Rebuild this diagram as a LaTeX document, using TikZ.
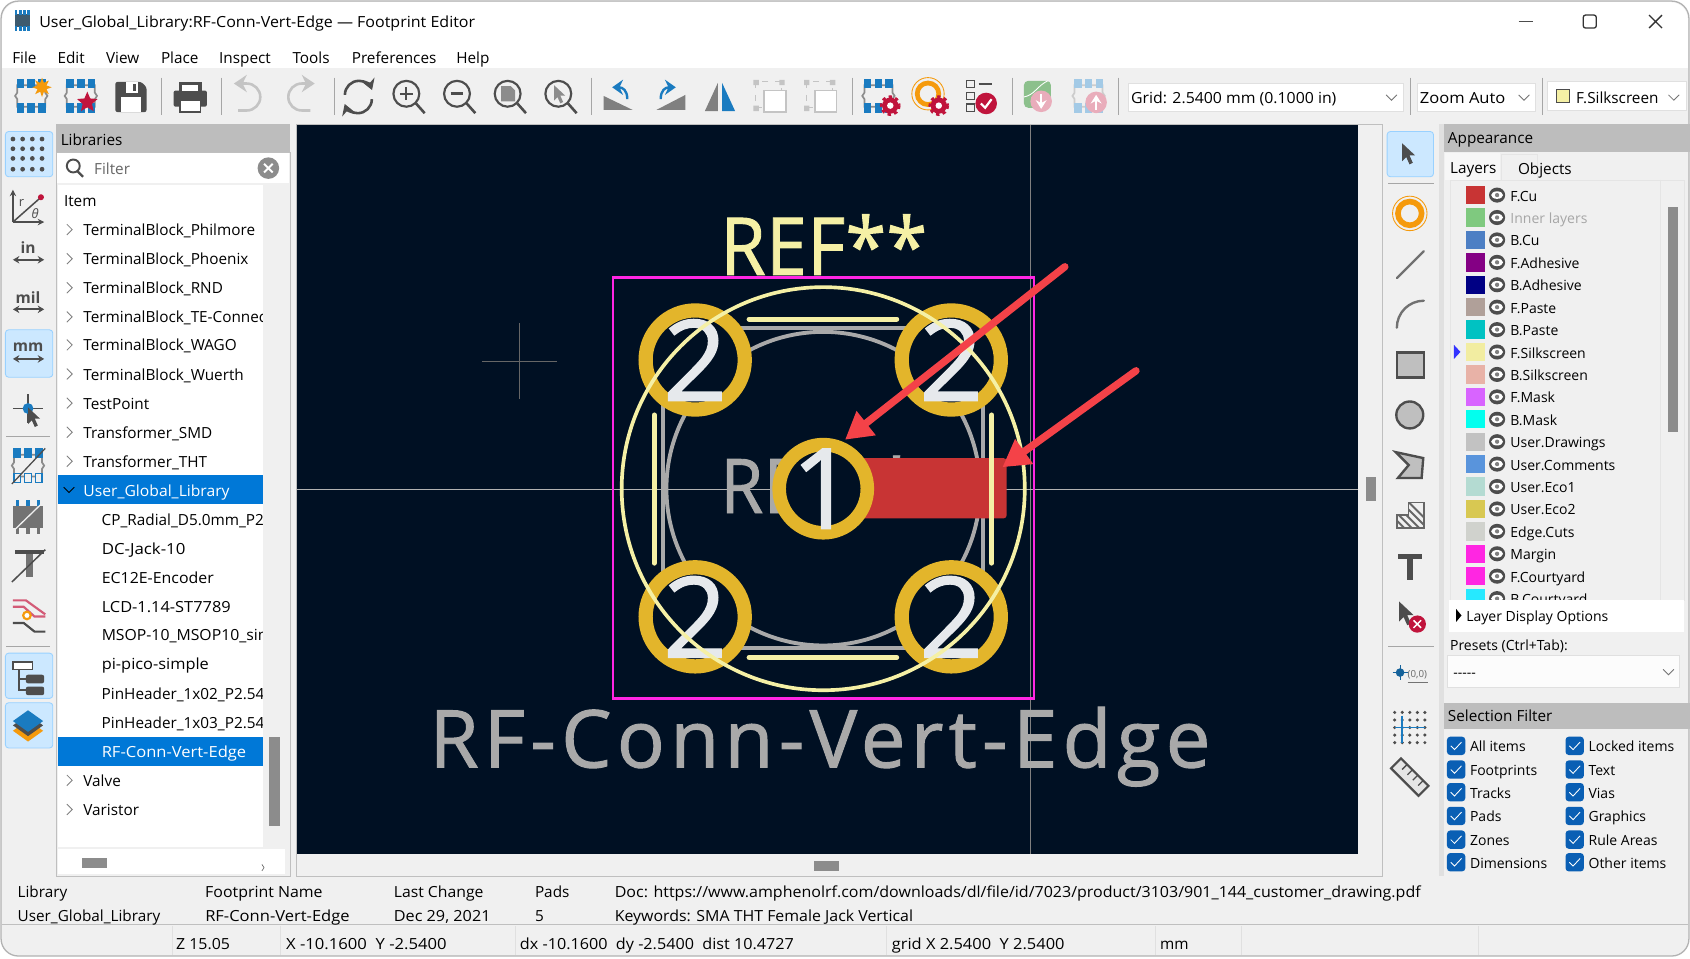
\documentclass[tikz,border=0pt]{standalone}
\usepackage{fontspec}
\setmainfont{Open Sans}
\usetikzlibrary{positioning, arrows.meta, shapes.geometric}

\newcommand{\uifont}{\fontsize{7.1}{8.5}\selectfont}
\newcommand{\smallfont}{\fontsize{6.5}{8}\selectfont}
\newfontfamily\kicadfont[LetterSpace=6.6, FakeBold=1.2]{Open Sans}
\newfontfamily\kicadrefont[LetterSpace=.6, FakeBold=1.2]{Open Sans}
\newfontfamily\padfont[FakeBold=1.2]{Open Sans}

\definecolor{panelbg}{HTML}{F0F0F0}
\definecolor{headbg}{HTML}{BDBDBD}
\definecolor{canvasbg}{HTML}{001023}
\definecolor{selblue}{HTML}{0078D7}
\definecolor{hilite}{HTML}{CCE8FF}
\definecolor{hiborder}{HTML}{99D1FF}
\definecolor{padgold}{HTML}{E3B52B}
\definecolor{padtext}{HTML}{E6E9EC}
\definecolor{silk}{HTML}{F5F0A5}
\definecolor{fabgray}{HTML}{A9A9A9}
\definecolor{courtyard}{HTML}{FF26E2}
\definecolor{copper}{HTML}{C83434}
\definecolor{arrowred}{HTML}{F44248}
\definecolor{icongray}{HTML}{4D4D4D}
\definecolor{iconblue}{HTML}{1A7BC0}
\definecolor{iconred}{HTML}{C0143C}
\definecolor{iconorange}{HTML}{F59A0C}
\definecolor{fadegray}{HTML}{C4C4C4}
\definecolor{checkblue}{HTML}{0A5FB4}

\tikzset{
	txt/.style={anchor=base west, inner sep=0pt, font=\uifont, text=black, yshift=-2.8pt},
	sm/.style={txt, font=\smallfont},
	sx/.style={xscale=#1, transform shape},
	sepline/.style={draw=black!35, line width=.4pt},
	hibox/.style={fill=hilite, draw=hiborder, line width=.4pt, rounded corners=1.5pt},
	ico/.style={draw=icongray, line width=1pt},
	combo/.style={fill=white, draw=black!12, line width=.4pt},
}

% footprint outline with pads: x, y, pad colour, line colour
\newcommand{\fpicon}[4]{
	\begin{scope}[shift={(#1,#2)}]
		\draw[draw=#4, line width=.8pt] (-13,-10) -- (-13,-3) -- (-15,0) -- (-13,3) -- (-13,10) -- (13,10) -- (13,3) -- (15,0) -- (13,-3) -- (13,-10) -- cycle;
		\foreach \px in {-10,0,10} {
			\fill[#3] (\px-3.5,-16) rectangle (\px+3.5,-7);
			\fill[#3] (\px-3.5,7) rectangle (\px+3.5,16);
		}
	\end{scope}
}
% red gear: x, y, colour
\newcommand{\gearicon}[3]{
	\fill[#3] (#1,#2) circle[radius=7.5];
	\draw[#3, line width=1.6pt, dash pattern=on 1.5pt off 1.5pt] (#1,#2) circle[radius=8];
	\fill[white] (#1,#2) circle[radius=3];
}
\newcommand{\zoomicon}[2]{
	\draw[ico] (#1-2,#2-3) circle[radius=12];
	\draw[ico, line width=1.2pt] (#1+7,#2+6) -- (#1+15,#2+15);
}
\newcommand{\cursoricon}[4][1]{
	\begin{scope}[shift={(#2,#3)}, scale=#1]
		\fill[#4] (0,0) -- (0,22) -- (5,17) -- (9,26) -- (13,24) -- (9,15) -- (16,15) -- cycle;
	\end{scope}
}
\newcommand{\undoicon}[3]{
	\begin{scope}[shift={(#1,#2)}, xscale=#3]
		\draw[fadegray, line width=1.2pt, -{Stealth[length=6pt,width=8pt]}] (-10,12.5) -- (-2,12.5) arc[start angle=90, end angle=-90, radius=12.5] -- (-14,-12.5);
	\end{scope}
}
\newcommand{\groupicon}[2]{
	\draw[fadegray, line width=.5pt, dashed] (#1-14,#2-14) rectangle (#1+10,#2+10);
	\fill[fadegray] (#1-16,#2-16) rectangle ++(5,5) (#1+8,#2-16) rectangle ++(5,5) (#1-16,#2+8) rectangle ++(5,5);
	\draw[fadegray, fill=white, line width=.8pt] (#1-6,#2-6) rectangle (#1+14,#2+14);
}

\begin{document}
\begin{tikzpicture}[x=.5pt, y=-.5pt]
	\useasboundingbox (0,0) rectangle (1568,889);

	% Window
	\fill[white] (0,0) rectangle (1568,889);
	\draw[draw=black!30, fill=panelbg, line width=.6pt, rounded corners=8pt] (1,1) rectangle (1567,887);
	\fill[white] (2,63) [rounded corners=8pt] -- (2,2) -- (1566,2) [sharp corners] -- (1566,63) -- cycle;

	% Title bar
	\fill[icongray!70!iconblue] (14,13) rectangle (28,25);
	\foreach \px in {15,19,23,27} {
		\fill[iconblue] (\px-1.5,9) rectangle (\px+1,14);
		\fill[iconblue] (\px-1.5,24) rectangle (\px+1,29);
	}
	\node[txt, sx=1.047] (title) at (36,20) {User\_Global\_Library:RF-Conn-Vert-Edge — Footprint Editor};
	\draw[black!70, line width=.5pt] (1409,20) -- (1422,20);
	\draw[black!80, line width=.6pt, rounded corners=1pt] (1469,14) rectangle (1481,26);
	\draw[black!80, line width=.6pt] (1530,14) -- (1542,26) (1542,14) -- (1530,26);

	% Menu bar
	\foreach \name/\px in {File/11, Edit/53, View/98, Place/149, Inspect/203, Tools/271, Preferences/326, Help/423} {
		\node[txt] (menu\name) at (\px,53) {\name};
	}

	% Top toolbar separators
	\foreach \px in {150,205,310,549,791,939,1038,1309,1431} {
		\draw[sepline] (\px,72) -- (\px,107);
	}

	% New and open footprint, save, print
	\fpicon{29}{89}{iconblue}{black!45}
	\node[star, star points=8, star point ratio=2, fill=iconorange, minimum size=9pt, inner sep=0pt] (newstar) at (39,81) {};
	\fpicon{75}{89}{iconblue}{black!45}
	\node[star, star points=5, star point ratio=2.2, fill=iconred, minimum size=10pt, inner sep=0pt] (openstar) at (81,95) {};
	\fill[icongray, rounded corners=1pt] (107,76) -- (131,76) -- (136,81) -- (136,104) -- (107,104) -- cycle;
	\fill[white] (112,90) rectangle (131,104);
	\fill[white] (117,76) rectangle (128,86);
	\fill[icongray] (123,78) rectangle (126,84);
	\fill[icongray, rounded corners=1pt] (161,84) rectangle (192,99);
	\fill[icongray] (166,76) rectangle (187,84);
	\fill[white] (169,79) rectangle (184,84);
	\draw[icongray, fill=white, line width=.9pt] (167,93) rectangle (186,104);

	% Undo, redo
	\undoicon{231}{90}{1}
	\undoicon{278}{90}{-1}

	% Refresh and zoom
	\draw[ico, line width=1.2pt, -{Stealth[length=5pt,width=6pt]}] (320,88) arc[start angle=180, end angle=340, radius=13];
	\draw[ico, line width=1.2pt, -{Stealth[length=5pt,width=6pt]}] (345,92) arc[start angle=0, end angle=160, radius=13];
	\zoomicon{379}{90}
	\draw[ico] (371,87) -- (383,87) (377,81) -- (377,93);
	\zoomicon{426}{90}
	\draw[ico, line width=1.2pt] (418,87) -- (430,87);
	\zoomicon{473}{90}
	\fill[black!45] (465,80) -- (474,80) -- (478,84) -- (478,94) -- (465,94) -- cycle;
	\zoomicon{520}{90}
	\cursoricon[.65]{514}{79}{black!45}

	% Rotate and mirror
	\fill[black!50] (560,89) -- (587,102) -- (560,102) -- cycle;
	\draw[iconblue, line width=1.1pt, -{Stealth[length=5pt,width=7pt]}] (582,92) .. controls (582,84) and (578,81) .. (568,81);
	\fill[black!50] (636,88) -- (609,102) -- (636,102) -- cycle;
	\draw[iconblue, line width=1.1pt, -{Stealth[length=5pt,width=7pt]}] (613,92) .. controls (613,84) and (617,81) .. (627,81);
	\fill[black!50] (666,77) -- (666,103) -- (654,103) -- cycle;
	\fill[iconblue] (670,77) -- (670,103) -- (682,103) -- cycle;
	\groupicon{715}{90}
	\groupicon{762}{90}

	% Settings and checks
	\fpicon{815}{89}{iconblue}{black!45}
	\gearicon{826}{98}{iconred}
	\draw[iconorange, line width=2.2pt] (861,87) circle[radius=10];
	\draw[iconorange, line width=.4pt] (861,87) circle[radius=15];
	\gearicon{871}{98}{iconred}
	\foreach \py in {78,89,100} {
		\draw[icongray, line width=.6pt] (897,\py-3.5) rectangle (904,\py+3.5);
	}
	\draw[icongray, line width=.8pt] (908,78) -- (920,78) (908,89) -- (912,89);
	\fill[iconred] (915,96) circle[radius=10];
	\draw[white, line width=1pt] (910,96) -- (914,100) -- (920,92);

	% Faded import and export
	\fill[green!45!black!45!white, rounded corners=2pt] (950,75) rectangle (975,100);
	\draw[white, line width=.4pt] (950,90) .. controls (960,88) and (962,80) .. (972,75);
	\fill[iconred!35!white] (966,94) circle[radius=10];
	\draw[white, line width=1pt, -{Stealth[length=4pt,width=5pt]}] (966,87) -- (966,101);
	\fpicon{1010}{89}{iconblue!40!white}{black!20}
	\fill[iconred!35!white] (1017,95) circle[radius=10];
	\draw[white, line width=1pt, -{Stealth[length=4pt,width=5pt]}] (1017,102) -- (1017,88);

	% Combo boxes
	\draw[combo] (1047,77) rectangle (1302,103);
	\node[txt, sx=1.035] (gridbox) at (1049,90) {Grid: 2.5400 mm (0.1000 in)};
	\draw[combo] (1315,77) rectangle (1425,103);
	\node[txt, sx=1.08] (zoombox) at (1317,90) {Zoom Auto};
	\draw[combo] (1436,76) rectangle (1565,102);
	\draw[black!70, fill=silk, line width=.4pt] (1444,83) rectangle (1456,95);
	\node[txt] (layerbox) at (1462,90) {F.Silkscreen};
	\foreach \px in {1291,1414,1553} {
		\draw[black!55, line width=.4pt] (\px-5,88) -- (\px,93) -- (\px+5,88);
	}

	% Left toolbar
	\draw[hibox] (5,122) rectangle (49,164);
	\draw[hibox] (5,306) rectangle (49,350);
	\draw[hibox] (5,606) rectangle (49,648);
	\draw[hibox] (5,652) rectangle (49,694);
	\foreach \px in {12,21,30,39} {
		\foreach \py in {129,138,147,157} {
			\fill[icongray] (\px,\py) circle[radius=2.2];
		}
	}
	% Polar icon
	\draw[icongray, line width=.7pt, -{Stealth[length=3pt,width=3pt]}] (12,206) -- (12,176);
	\draw[icongray, line width=.7pt, -{Stealth[length=3pt,width=3pt]}] (12,206) -- (41,206);
	\draw[icongray, line width=.7pt] (12,206) -- (38,183);
	\fill[iconred] (38,183) circle[radius=2.8];
	\node[txt, font=\fontsize{6}{6}\selectfont, text=icongray] (polarr) at (17,186) {r};
	\node[txt, font=\fontsize{6}{6}\itshape\selectfont, text=icongray] (polart) at (29,197) {θ};
	% Unit icons
	\foreach \unit/\py in {in/236, mil/282, mm/328} {
		\node[font=\fontsize{7.2}{8}\bfseries\selectfont, text=icongray, inner sep=0pt] (unit\unit) at (26,\py-6) {\unit};
		\draw[icongray, line width=.8pt, {Stealth[length=3pt,width=3.5pt]}-{Stealth[length=3pt,width=3.5pt]}] (12,\py+5) -- (41,\py+5);
	}
	% Cursor in crosshair
	\draw[icongray, line width=.5pt] (26,366) -- (26,392) (12,379) -- (40,379);
	\fill[iconblue] (26,379) circle[radius=5];
	\cursoricon[.7]{26}{378}{icongray}
	\draw[sepline] (6,405) -- (46,405);
	% Hidden item icons
	\fpicon{26}{432}{iconblue}{black!45}
	\foreach \px in {16,26,36} {
		\draw[iconblue, fill=panelbg, line width=.5pt] (\px-3,439) rectangle (\px+3,448);
	}
	\draw[icongray, line width=.6pt] (11,449) -- (42,416);
	\fill[black!55] (12,469) rectangle (40,490);
	\foreach \px in {16,26,36} {
		\fill[iconblue] (\px-1.5,464) rectangle (\px+1.5,469);
		\fill[black!55] (\px-1.5,490) rectangle (\px+1.5,495);
	}
	\draw[panelbg, line width=.6pt] (11,494) -- (42,464);
	\fill[icongray] (14,510) rectangle (41,514);
	\fill[black!55] (24,514) rectangle (31,535);
	\draw[icongray, line width=.7pt] (11,540) -- (42,510);
	\draw[iconred!70!white, line width=1pt] (12,563) -- (22,563) -- (32,572) -- (42,572);
	\draw[icongray, line width=1pt] (12,578) -- (22,578) -- (32,586) -- (42,586);
	\draw[iconred!70!white, line width=1pt] (12,557) -- (24,557) -- (42,570);
	\draw[iconorange, fill=white, line width=1pt] (25,571) circle[radius=3.5];
	\draw[sepline] (6,600) -- (46,600);
	% Hierarchy
	\draw[icongray, line width=.9pt] (18,622) -- (18,640) -- (26,640) (18,630) -- (26,630);
	\draw[icongray, fill=white, line width=.7pt] (12,614) rectangle (30,621);
	\fill[icongray, rounded corners=1pt] (24,626) rectangle (41,634);
	\fill[icongray, rounded corners=1pt] (24,637) rectangle (41,645);
	% Layers
	\fill[iconorange] (26,668) -- (40,678) -- (26,688) -- (12,678) -- cycle;
	\fill[icongray] (26,663) -- (40,673) -- (26,683) -- (12,673) -- cycle;
	\fill[iconblue] (26,659) -- (40,669) -- (26,679) -- (12,669) -- cycle;

	% Libraries panel
	\fill[headbg] (52,115) rectangle (269,141);
	\node[txt] (libhead) at (56,129) {Libraries};
	\draw[black!25, line width=.4pt] (52,141) rectangle (269,813);
	\fill[white] (53,142) rectangle (268,170);
	\draw[icongray, line width=.9pt] (68,154) circle[radius=6];
	\draw[icongray, line width=1.1pt] (72,159) -- (77,164);
	\node[txt, text=black!60] (filter) at (87,156) {Filter};
	\fill[black!45] (249,156) circle[radius=10];
	\draw[white, line width=.9pt] (245,152) -- (253,160) (253,152) -- (245,160);
	\fill[white] (54,172) rectangle (244,786);
	\fill[white] (54,788) rectangle (264,811);
	\fill[selblue] (54,441) rectangle (244,468);
	\fill[selblue] (54,684) rectangle (244,711);
	\begin{scope}
		\clip (54,172) rectangle (244,786); % Clip long names to the list
		\node[txt] (libitem) at (59,186) {Item};
		\foreach \name/\py in {TerminalBlock\_Philmore/213, TerminalBlock\_Phoenix/240, TerminalBlock\_RND/267, TerminalBlock\_TE-Connectivity/294, TerminalBlock\_WAGO/320, TerminalBlock\_Wuerth/347, TestPoint/374, Transformer\_SMD/401, Transformer\_THT/428, Valve/724, Varistor/751} {
			\node[txt] (lib\py) at (77,\py) {\name};
			\draw[black!50, line width=.4pt] (62,\py-5) -- (67,\py) -- (62,\py+5);
		}
		\node[txt, text=white, sx=1.025] (libuser) at (77,455) {User\_Global\_Library};
		\draw[black, line width=.4pt] (59,452) -- (64,457) -- (69,452);
		\foreach \name/\py/\stretch in {CP\_Radial\_D5.0mm\_P2.00mm/482/1, DC-Jack-10/509/1.1, EC12E-Encoder/536/1.04, LCD-1.14-ST7789/563/1.07, MSOP-10\_MSOP10\_simple/589/1.03, pi-pico-simple/616/1.07, PinHeader\_1x02\_P2.54mm/643/1, PinHeader\_1x03\_P2.54mm/670/1} {
			\node[txt, sx=\stretch] (fp\py) at (94,\py) {\name};
		}
		\node[txt, text=white, sx=1.08] (fpsel) at (94,697) {RF-Conn-Vert-Edge};
	\end{scope}
	\fill[black!45] (250,684) rectangle (260,766);
	\fill[black!45] (76,796) rectangle (99,805);
	\draw[black!60, line width=.3pt] (243,802) -- (245,805) -- (243,808);

	% Canvas
	\draw[black!25, line width=.4pt] (275,115) rectangle (1283,813);
	\fill[canvasbg] (276,116) rectangle (1260,792);
	\fill[black!45] (1267,443) rectangle (1277,465);
	\fill[black!45] (755,799) rectangle (778,808);
	\draw[black!50, line width=.35pt] (956,116) -- (956,792);
	\draw[black!30, line width=.35pt] (276,454) -- (1260,454);
	\draw[black!60, line width=.35pt] (447,335) -- (517,335) (482,300) -- (482,370);

	% Fabrication layer
	\draw[fabgray, line width=1.8pt] (615,304.5) rectangle (912,601);
	\draw[fabgray, line width=1.8pt] (763.8,453.4) circle[radius=145.5];
	\begin{scope}
		\clip (660,423) rectangle (880,480);
		\node[anchor=base west, inner sep=0pt, font=\fontsize{35}{35}\kicadrefont\selectfont, text=fabgray, sx=.92] (fabref) at (668,476) {REF**};
	\end{scope}

	% Copper pad
	\fill[copper, rounded corners=1.5pt] (763.8,425) rectangle (934,481);

	% Pads
	\foreach \px/\py/\padname in {645/334/a, 882.6/334/b, 645/572.3/c, 882.6/572.3/d} {
		\draw[padgold, fill=canvasbg, line width=6.6pt] (\px,\py) circle[radius=46];
		\node[font=\fontsize{52}{52}\padfont\selectfont, text=padtext, inner sep=0pt] (pad\padname) at (\px,\py) {2};
	}
	\draw[padgold, fill=canvasbg, line width=6.3pt] (763.8,453.4) circle[radius=40.9];
	\node[font=\fontsize{52}{52}\padfont\selectfont, text=padtext, inner sep=0pt] (padone) at (763.8,453.4) {1};

	% Silkscreen
	\draw[silk, line width=1.7pt] (763.8,453.4) circle[radius=187];
	\draw[silk, line width=2.3pt, line cap=round] (695,296) -- (832,296);
	\draw[silk, line width=2.3pt, line cap=round] (695,610) -- (832,610);
	\draw[silk, line width=2.3pt, line cap=round] (607,385) -- (607,522.5);
	\draw[silk, line width=2.3pt, line cap=round] (920,385) -- (920,522.5);
	\node[anchor=base west, inner sep=0pt, font=\fontsize{37}{37}\kicadrefont\selectfont, text=silk, sx=.92] (silkref) at (668,255) {REF**};

	% Courtyard
	\draw[courtyard, line width=1pt] (569,257.5) rectangle (959.5,648);

	% Footprint name
	\node[anchor=base west, inner sep=0pt, font=\fontsize{37}{37}\kicadfont\selectfont, text=fabgray] (fpname) at (398,712) {RF-Conn-Vert-Edge};

	% Red arrows
	\coordinate (arrowastart) at (988,247.5);
	\coordinate (arrowaend) at (784,408);
	\coordinate (arrowbstart) at (1054,344);
	\coordinate (arrowbend) at (930,433.5);
	\draw[arrowred, line width=3.4pt, line cap=round, -{Triangle[length=12.5pt,width=13.5pt]}] (arrowastart) -- (arrowaend);
	\draw[arrowred, line width=3.4pt, line cap=round, -{Triangle[length=12.5pt,width=13.5pt]}] (arrowbstart) -- (arrowbend);

	% Right toolbar
	\draw[hibox] (1287,122) rectangle (1330,164);
	\cursoricon[.75]{1301}{133}{icongray}
	\draw[sepline] (1288,170) -- (1330,170);
	\draw[iconorange, line width=2.6pt] (1308,198) circle[radius=11];
	\draw[iconorange, line width=.4pt] (1308,198) circle[radius=16];
	\draw[icongray!80, line width=1.1pt, line cap=round] (1296,258) -- (1321,233);
	\draw[icongray!80, line width=1.1pt, line cap=round] (1296,304) arc[start angle=180, end angle=270, radius=25];
	\draw[icongray, fill=black!25, line width=1.2pt] (1296,327) rectangle (1321,350);
	\draw[icongray, fill=black!25, line width=1.1pt] (1308,385) circle[radius=12.5];
	\draw[icongray, fill=black!25, line width=1.1pt] (1295,419.5) -- (1320.5,425) -- (1319,443.5) -- (1297,443.5) -- (1307,431.5) -- cycle;
	\begin{scope}
		\clip (1296,490) -- (1296,478) -- (1307,478) -- (1307,466) -- (1321,466) -- (1321,490) -- cycle;
		\foreach \hx in {1296,1303,1310,1317,1324,1331} {
			\draw[black!60, line width=.9pt] (\hx-24,466) -- (\hx,490);
		}
	\end{scope}
	\draw[black!60, line width=.7pt] (1296,490) -- (1296,478) -- (1307,478) -- (1307,466) -- (1321,466) -- (1321,490) -- cycle;
	\fill[icongray] (1297,514) rectangle (1319,519);
	\fill[icongray] (1305,514) rectangle (1311,538);
	\cursoricon[.85]{1298}{558}{icongray}
	\fill[iconred] (1315,579) circle[radius=8];
	\draw[white, line width=.7pt] (1311.5,575.5) -- (1318.5,582.5) (1318.5,575.5) -- (1311.5,582.5);
	\draw[sepline] (1288,600) -- (1330,600);
	\fill[iconblue!80!black] (1299,624) circle[radius=4];
	\draw[iconblue!80!black, line width=.5pt] (1292,624) -- (1306,624) (1299,617) -- (1299,631);
	\draw[black!55, line width=.4pt] (1306,633) -- (1325,633);
	\node[font=\fontsize{4.5}{5}\selectfont, text=black!60, inner sep=0pt] (origin) at (1315,626) {(0,0)};
	\foreach \px in {1294,1301,1308,1315,1322} {
		\foreach \py in {661,668,675,682,689} {
			\fill[icongray] (\px,\py) circle[radius=1.6];
		}
	}
	\draw[iconblue, line width=.7pt] (1294,675) -- (1322,675) (1301,664) -- (1301,689);
	\begin{scope}[shift={(1308,721)}, rotate=-45]
		\draw[icongray, fill=black!10, line width=1pt] (-18,-6.5) rectangle (18,6.5);
		\foreach \tx in {-10,-3,4,11} {
			\draw[icongray, line width=.6pt] (\tx,-6) -- (\tx,0);
		}
	\end{scope}

	% Appearance panel
	\fill[black!12] (1335,115) rectangle (1340,813);
	\fill[headbg] (1340,115) rectangle (1568,141);
	\node[txt] (apphead) at (1343,128) {Appearance};
	\fill[black!3] (1341,142) rectangle (1392,167);
	\draw[black!10, line width=.3pt] (1393,143) rectangle (1426,167);
	\node[txt] (tablayers) at (1345,155) {Layers};
	\node[txt] (tabobjects) at (1408,156) {Objects};
	\draw[black!10, line width=.3pt] (1346,167) rectangle (1563,557);
	\draw[black!10, line width=.3pt] (1540,167) -- (1540,557);
	\fill[black!6] (1346,317) rectangle (1540,337);
	\fill[blue!80!white] (1349,320) -- (1355,326.5) -- (1349,333) -- cycle;
	\foreach \name/\swatch/\shade [count=\i] in {F.Cu/C83434/100, Inner layers/7FC97F/35, B.Cu/4D7FC4/100, F.Adhesive/840084/100, B.Adhesive/000084/100, F.Paste/B0A099/100, B.Paste/00C2C2/100, F.Silkscreen/F2EDA1/100, B.Silkscreen/E8B2A7/100, F.Mask/D864FF/100, B.Mask/02FFEE/100, User.Drawings/C2C2C2/100, User.Comments/5994DC/100, User.Eco1/B4DBD2/100, User.Eco2/D8C852/100, Edge.Cuts/D0D2CD/100, Margin/FF26E2/100, F.Courtyard/FF26E2/100, B.Courtyard/26E9FF/100} {
		\pgfmathsetmacro{\rowy}{181+(\i-1)*20.8}
		\definecolor{swcol}{HTML}{\swatch}
		\fill[swcol] (1360,\rowy-8.5) rectangle (1377.5,\rowy+8.5);
		\fill[icongray] (1389,\rowy) ellipse[x radius=7.5, y radius=7];
		\fill[white] (1389,\rowy) ellipse[x radius=5.5, y radius=3.5];
		\fill[black!50] (1389,\rowy) circle[radius=2];
		\node[sm, text=black!\shade] (layer\i) at (1401,\rowy) {\name};
	}
	\fill[black!45] (1548,192) rectangle (1557,401);
	\fill[white] (1344,557) rectangle (1562,586);
	\fill[black] (1351,565) -- (1356,571) -- (1351,577) -- cycle;
	\node[sm] (layeropts) at (1360,571) {Layer Display Options};
	\node[sm] (presets) at (1345,598) {Presets (Ctrl+Tab):};
	\draw[combo, fill=black!1] (1343,608) rectangle (1558,638);
	\node[sm] (presetval) at (1348,623) {-{}-{}-{}-{}-};
	\draw[black!55, line width=.4pt] (1543,621) -- (1548,626) -- (1553,621);

	% Selection filter
	\fill[headbg] (1340,652) rectangle (1568,676);
	\node[txt] (selhead) at (1343,664) {Selection Filter};
	\foreach \left/\right/\py in {All items/Locked items/692, Footprints/Text/714, Tracks/Vias/735, Pads/Graphics/757, Zones/Rule Areas/779, Dimensions/Other items/800} {
		\foreach \px/\name/\side in {1351/\left/l, 1461/\right/r} {
			\fill[checkblue, rounded corners=1.5pt] (\px-8.5,\py-8.5) rectangle (\px+8.5,\py+8.5);
			\draw[white, line width=.4pt] (\px-5,\py) -- (\px-1.5,\py+3.5) -- (\px+5,\py-3.5);
			\node[sm] (filter\side\py) at (\px+12.5,\py) {\name};
		}
	}

	% Message panel
	\draw[black!25, line width=.4pt] (2,858) -- (1566,858);
	\foreach \px in {160,260,478,822,1072,1152,1372} {
		\draw[black!12, line width=.4pt] (\px,859) -- (\px,886);
	}
	\foreach \name/\value/\px/\tag/\stretch/\valstretch in {Library/User\_Global\_Library/16/lib/1/1, Footprint Name/RF-Conn-Vert-Edge/190/fp/1.04/1.08, Last Change/{Dec 29, 2021}/365/date/1.03/1.06, Pads/5/496/pads/1/1} {
		\node[txt, sx=\stretch] (msg\tag) at (\px,827) {\name};
		\node[txt, sx=\valstretch] (val\tag) at (\px,849) {\value};
	}
	\node[txt, sx=1.046] (msgdoc) at (570,827) {Doc: https://www.amphenolrf.com/downloads/dl/file/id/7023/product/3103/901\_144\_customer\_drawing.pdf};
	\node[txt, sx=1.04] (msgkey) at (570,849) {Keywords: SMA THT Female Jack Vertical};

	% Status bar
	\node[txt, sx=1.04] (statz) at (163,875) {Z 15.05};
	\node[txt, sx=1.088] (statxy) at (265,875) {X -10.1600\ \ Y -2.5400};
	\node[txt, sx=1.057] (statdist) at (482,875) {dx -10.1600\ \ dy -2.5400\ \ dist 10.4727};
	\node[txt, sx=1.074] (statgrid) at (827,875) {grid X 2.5400\ \ Y 2.5400};
	\node[txt] (statunit) at (1076,875) {mm};
\end{tikzpicture}
\end{document}
